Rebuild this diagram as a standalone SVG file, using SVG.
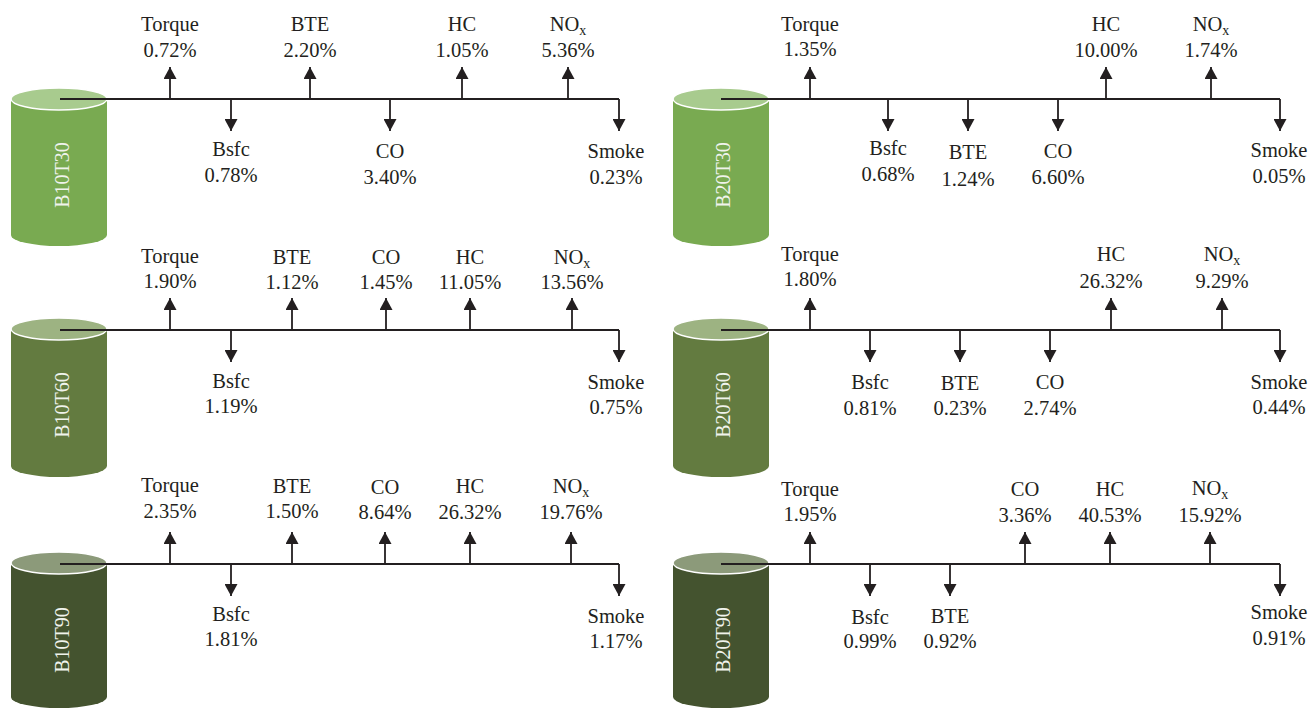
<svg xmlns="http://www.w3.org/2000/svg" width="1311" height="709" viewBox="0 0 1311 709">
<defs>
<marker id="ah" viewBox="0 0 12 13" refX="12" refY="6.5" markerWidth="12" markerHeight="13" markerUnits="userSpaceOnUse" orient="auto">
<path d="M0,0 L12,6.5 L0,13 Z" fill="#231f20"/>
</marker>
<style>
.t{font-family:"Liberation Serif","Times New Roman",serif;font-size:20.5px;fill:#231f20;text-anchor:middle}
.cl{font-family:"Liberation Serif","Times New Roman",serif;font-size:20px;fill:#f0f3ec;text-anchor:middle}
.ln{stroke:#231f20;stroke-width:1.8;fill:none}
.ar{stroke:#231f20;stroke-width:1.8;fill:none;marker-end:url(#ah)}
.top{stroke:#ffffff;stroke-width:1.5}
.s{font-size:14px}
</style>
</defs>
<rect width="1311" height="709" fill="#ffffff"/>

<g id="B10T30">
<path d="M11,99 L11,235 A48,11 0 0 0 107,235 L107,99 Z" fill="#79aa51"/>
<ellipse class="top" cx="59" cy="99" rx="48" ry="11" fill="#a8cb8e"/>
<text class="cl" transform="translate(69,175) rotate(-90)">B10T30</text>
</g>
<g id="B10T60">
<path d="M11,329 L11,466 A48,11 0 0 0 107,466 L107,329 Z" fill="#637b40"/>
<ellipse class="top" cx="59" cy="329" rx="48" ry="11" fill="#9db382"/>
<text class="cl" transform="translate(69,405) rotate(-90)">B10T60</text>
</g>
<g id="B10T90">
<path d="M11,563 L11,697 A48,11 0 0 0 107,697 L107,563 Z" fill="#44532f"/>
<ellipse class="top" cx="59" cy="563" rx="48" ry="11" fill="#8c9a7a"/>
<text class="cl" transform="translate(69,640) rotate(-90)">B10T90</text>
</g>
<g id="B20T30">
<path d="M673,99 L673,235 A48,11 0 0 0 769,235 L769,99 Z" fill="#79aa51"/>
<ellipse class="top" cx="721" cy="99" rx="48" ry="11" fill="#a8cb8e"/>
<text class="cl" transform="translate(730,175) rotate(-90)">B20T30</text>
</g>
<g id="B20T60">
<path d="M673,329 L673,466 A48,11 0 0 0 769,466 L769,329 Z" fill="#637b40"/>
<ellipse class="top" cx="721" cy="329" rx="48" ry="11" fill="#9db382"/>
<text class="cl" transform="translate(730,405) rotate(-90)">B20T60</text>
</g>
<g id="B20T90">
<path d="M673,563 L673,697 A48,11 0 0 0 769,697 L769,563 Z" fill="#44532f"/>
<ellipse class="top" cx="721" cy="563" rx="48" ry="11" fill="#8c9a7a"/>
<text class="cl" transform="translate(730,640) rotate(-90)">B20T90</text>
</g>

<g id="connectors">
<path class="ln" d="M60,99 H619"/>
<path class="ar" d="M170,99 V67"/><path class="ar" d="M231,99 V131"/><path class="ar" d="M310,99 V67"/><path class="ar" d="M390,99 V131"/><path class="ar" d="M462,99 V67"/><path class="ar" d="M568,99 V67"/><path class="ar" d="M619,99 V131"/>
<path class="ln" d="M60,330 H619"/>
<path class="ar" d="M170,330 V298"/><path class="ar" d="M231,330 V362"/><path class="ar" d="M292,330 V298"/><path class="ar" d="M386,330 V298"/><path class="ar" d="M470,330 V298"/><path class="ar" d="M572,330 V298"/><path class="ar" d="M619,330 V362"/>
<path class="ln" d="M60,564 H619"/>
<path class="ar" d="M170,564 V532"/><path class="ar" d="M231,564 V596"/><path class="ar" d="M292,564 V532"/><path class="ar" d="M385,564 V532"/><path class="ar" d="M470,564 V532"/><path class="ar" d="M571,564 V532"/><path class="ar" d="M619,564 V596"/>
<path class="ln" d="M721,99 H1280"/>
<path class="ar" d="M810,99 V67"/><path class="ar" d="M888,99 V131"/><path class="ar" d="M968,99 V131"/><path class="ar" d="M1058,99 V131"/><path class="ar" d="M1106,99 V67"/><path class="ar" d="M1211,99 V67"/><path class="ar" d="M1280,99 V131"/>
<path class="ln" d="M721,330 H1280"/>
<path class="ar" d="M810,330 V298"/><path class="ar" d="M870,330 V362"/><path class="ar" d="M960,330 V362"/><path class="ar" d="M1050,330 V362"/><path class="ar" d="M1111,330 V298"/><path class="ar" d="M1222,330 V298"/><path class="ar" d="M1280,330 V362"/>
<path class="ln" d="M721,564 H1280"/>
<path class="ar" d="M810,564 V532"/><path class="ar" d="M870,564 V596"/><path class="ar" d="M950,564 V596"/><path class="ar" d="M1025,564 V532"/><path class="ar" d="M1110,564 V532"/><path class="ar" d="M1210,564 V532"/><path class="ar" d="M1280,564 V596"/>
</g>

<g id="labels">
<text class="t" x="170" y="31">Torque</text><text class="t" x="170" y="57">0.72%</text>
<text class="t" x="310" y="31">BTE</text><text class="t" x="310" y="57">2.20%</text>
<text class="t" x="462" y="31">HC</text><text class="t" x="462" y="57">1.05%</text>
<text class="t" x="568" y="31">NO<tspan class="s" dy="4">x</tspan></text><text class="t" x="568" y="57">5.36%</text>
<text class="t" x="231" y="156">Bsfc</text><text class="t" x="231" y="182">0.78%</text>
<text class="t" x="390" y="158">CO</text><text class="t" x="390" y="184">3.40%</text>
<text class="t" x="616" y="158">Smoke</text><text class="t" x="616" y="184">0.23%</text>
<text class="t" x="170" y="263">Torque</text><text class="t" x="170" y="288">1.90%</text>
<text class="t" x="292" y="264">BTE</text><text class="t" x="292" y="289">1.12%</text>
<text class="t" x="386" y="264">CO</text><text class="t" x="386" y="289">1.45%</text>
<text class="t" x="470" y="264">HC</text><text class="t" x="470" y="289">11.05%</text>
<text class="t" x="572" y="264">NO<tspan class="s" dy="4">x</tspan></text><text class="t" x="572" y="289">13.56%</text>
<text class="t" x="231" y="388">Bsfc</text><text class="t" x="231" y="413">1.19%</text>
<text class="t" x="616" y="389">Smoke</text><text class="t" x="616" y="414">0.75%</text>
<text class="t" x="170" y="492">Torque</text><text class="t" x="170" y="518">2.35%</text>
<text class="t" x="292" y="493">BTE</text><text class="t" x="292" y="518">1.50%</text>
<text class="t" x="385" y="494">CO</text><text class="t" x="385" y="519">8.64%</text>
<text class="t" x="470" y="493">HC</text><text class="t" x="470" y="519">26.32%</text>
<text class="t" x="571" y="493">NO<tspan class="s" dy="4">x</tspan></text><text class="t" x="571" y="519">19.76%</text>
<text class="t" x="231" y="621">Bsfc</text><text class="t" x="231" y="646">1.81%</text>
<text class="t" x="616" y="623">Smoke</text><text class="t" x="616" y="648">1.17%</text>
<text class="t" x="810" y="31">Torque</text><text class="t" x="810" y="56">1.35%</text>
<text class="t" x="1106" y="31">HC</text><text class="t" x="1106" y="57">10.00%</text>
<text class="t" x="1211" y="31">NO<tspan class="s" dy="4">x</tspan></text><text class="t" x="1211" y="57">1.74%</text>
<text class="t" x="888" y="155">Bsfc</text><text class="t" x="888" y="181">0.68%</text>
<text class="t" x="968" y="159">BTE</text><text class="t" x="968" y="186">1.24%</text>
<text class="t" x="1058" y="158">CO</text><text class="t" x="1058" y="184">6.60%</text>
<text class="t" x="1279" y="157">Smoke</text><text class="t" x="1279" y="183">0.05%</text>
<text class="t" x="810" y="261">Torque</text><text class="t" x="810" y="286">1.80%</text>
<text class="t" x="1111" y="261">HC</text><text class="t" x="1111" y="288">26.32%</text>
<text class="t" x="1222" y="261">NO<tspan class="s" dy="4">x</tspan></text><text class="t" x="1222" y="288">9.29%</text>
<text class="t" x="870" y="389">Bsfc</text><text class="t" x="870" y="415">0.81%</text>
<text class="t" x="960" y="390">BTE</text><text class="t" x="960" y="415">0.23%</text>
<text class="t" x="1050" y="389">CO</text><text class="t" x="1050" y="415">2.74%</text>
<text class="t" x="1279" y="389">Smoke</text><text class="t" x="1279" y="414">0.44%</text>
<text class="t" x="810" y="496">Torque</text><text class="t" x="810" y="521">1.95%</text>
<text class="t" x="1025" y="496">CO</text><text class="t" x="1025" y="522">3.36%</text>
<text class="t" x="1110" y="496">HC</text><text class="t" x="1110" y="522">40.53%</text>
<text class="t" x="1210" y="495">NO<tspan class="s" dy="4">x</tspan></text><text class="t" x="1210" y="522">15.92%</text>
<text class="t" x="870" y="624">Bsfc</text><text class="t" x="870" y="648">0.99%</text>
<text class="t" x="950" y="623">BTE</text><text class="t" x="950" y="648">0.92%</text>
<text class="t" x="1279" y="619">Smoke</text><text class="t" x="1279" y="645">0.91%</text>
</g>
</svg>
